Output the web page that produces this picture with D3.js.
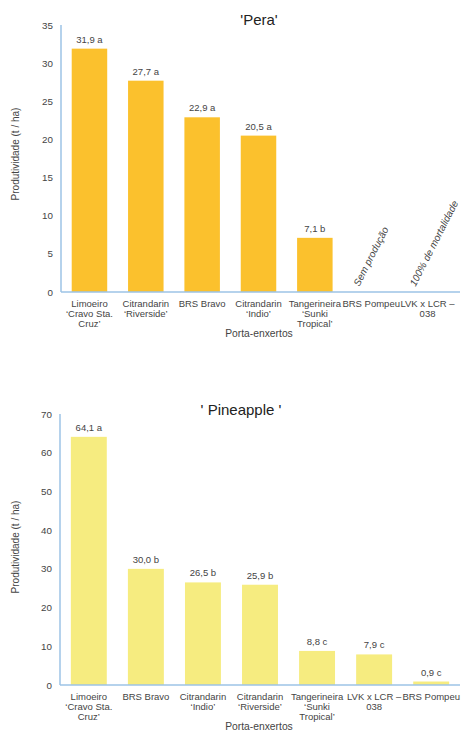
<!DOCTYPE html>
<html><head><meta charset="utf-8">
<script src="https://cdn.jsdelivr.net/npm/d3@7"></script>
<style>
body{margin:0;background:#fff;}
svg{display:block;font-family:"Liberation Sans",Arial,sans-serif;}
</style></head>
<body><svg id="c" width="461" height="731"></svg>
<script>
// ---- Data ----
const peraCategories = [
  ["Limoeiro","‘Cravo Sta.","Cruz’"],
  ["Citrandarin","‘Riverside’"],
  ["BRS Bravo"],
  ["Citrandarin","‘Indio’"],
  ["Tangerineira","‘Sunki","Tropical’"],
  ["BRS Pompeu"],
  ["LVK x LCR –","038"]
];
const peraValues = [31.9, 27.7, 22.9, 20.5, 7.1, null, null];
const peraLetters = ["a","a","a","a","b","",""];
const peraNotes = ["","","","","","Sem produção","100% de mortalidade"];
const peraTicks = [0,5,10,15,20,25,30,35];

const pineCategories = [
  ["Limoeiro","‘Cravo Sta.","Cruz’"],
  ["BRS Bravo"],
  ["Citrandarin","‘Indio’"],
  ["Citrandarin","‘Riverside’"],
  ["Tangerineira","‘Sunki","Tropical’"],
  ["LVK x LCR –","038"],
  ["BRS Pompeu"]
];
const pineValues = [64.1, 30.0, 26.5, 25.9, 8.8, 7.9, 0.9];
const pineLetters = ["a","b","b","b","c","c","c"];
const pineTicks = [0,10,20,30,40,50,60,70];

const svg = d3.select("#c");
const fmt = v => v.toFixed(1).replace(".", ",");
const TXT = "#444";

function drawChart(cfg){
  const g = svg.append("g");
  const x = d3.scaleBand().domain(d3.range(cfg.cats.length))
    .range([cfg.x0, cfg.x1]).paddingInner(0.37).paddingOuter(0.19);
  const y = d3.scaleLinear().domain([0, cfg.max]).range([cfg.yb, cfg.yt]);

  // y tick labels
  g.selectAll(".yt").data(cfg.ticks).join("text")
    .attr("x", cfg.x0 - 8).attr("y", d => y(d) + 3.5)
    .attr("text-anchor","end").attr("font-size", 9.8).attr("fill",TXT)
    .text(d => d);

  // bars
  cfg.vals.forEach((v,i) => {
    if (v == null) return;
    g.append("rect").attr("x", x(i)).attr("width", x.bandwidth())
      .attr("y", y(v)).attr("height", y(0) - y(v)).attr("fill", cfg.color);
    g.append("text").attr("x", x(i) + x.bandwidth()/2).attr("y", y(v) - 6)
      .attr("text-anchor","middle").attr("font-size", 9.5).attr("fill",TXT)
      .text(fmt(v) + " " + cfg.letters[i]);
  });

  // notes
  if (cfg.notes) cfg.notes.forEach((n,i) => {
    if (!n) return;
    g.append("text")
      .attr("transform", `translate(${x(i) + x.bandwidth()/2 - 12},${y(0) - 5}) rotate(-63)`)
      .attr("font-size", 10).attr("font-style","italic").attr("fill",TXT)
      .text(n);
  });

  // axes lines
  g.append("line").attr("x1", cfg.x0).attr("x2", cfg.x0)
    .attr("y1", cfg.yt).attr("y2", y(0)).attr("stroke","#9dc3e6").attr("stroke-width",1.5);
  g.append("line").attr("x1", cfg.x0).attr("x2", 460)
    .attr("y1", y(0)).attr("y2", y(0)).attr("stroke","#9dc3e6").attr("stroke-width",1.5);

  // x labels
  cfg.cats.forEach((lines,i) => {
    const t = g.append("text").attr("text-anchor","middle").attr("font-size", 9.5).attr("fill",TXT);
    lines.forEach((l,j) => {
      t.append("tspan").attr("x", x(i) + x.bandwidth()/2)
        .attr("y", y(0) + 14.5 + j*10).text(l);
    });
  });

  // axis titles
  g.append("text").attr("x", 259).attr("y", y(0) + 45)
    .attr("text-anchor","middle").attr("font-size", 10.3).attr("fill",TXT).text("Porta-enxertos");
  g.append("text").attr("transform", `translate(19,${cfg.ylabY}) rotate(-90)`)
    .attr("text-anchor","middle").attr("font-size", 10).attr("fill",TXT)
    .text("Produtividade (t / ha)");

  // title
  g.append("text").attr("x", cfg.titleX).attr("y", cfg.titleY)
    .attr("text-anchor","middle").attr("font-size", 15).attr("fill","#222")
    .text(cfg.title);
}

drawChart({cats: peraCategories, vals: peraValues, letters: peraLetters, notes: peraNotes,
  ticks: peraTicks, max: 35, x0: 61, x1: 456, yb: 292, yt: 25, color: "#fbc12d",
  title: "'Pera'", titleX: 259, titleY: 25, ylabY: 154});

drawChart({cats: pineCategories, vals: pineValues, letters: pineLetters, notes: null,
  ticks: pineTicks, max: 70, x0: 60, x1: 460, yb: 685, yt: 414, color: "#f6ec80",
  title: "' Pineapple '", titleX: 241, titleY: 415, ylabY: 547});
</script>
</body></html>
